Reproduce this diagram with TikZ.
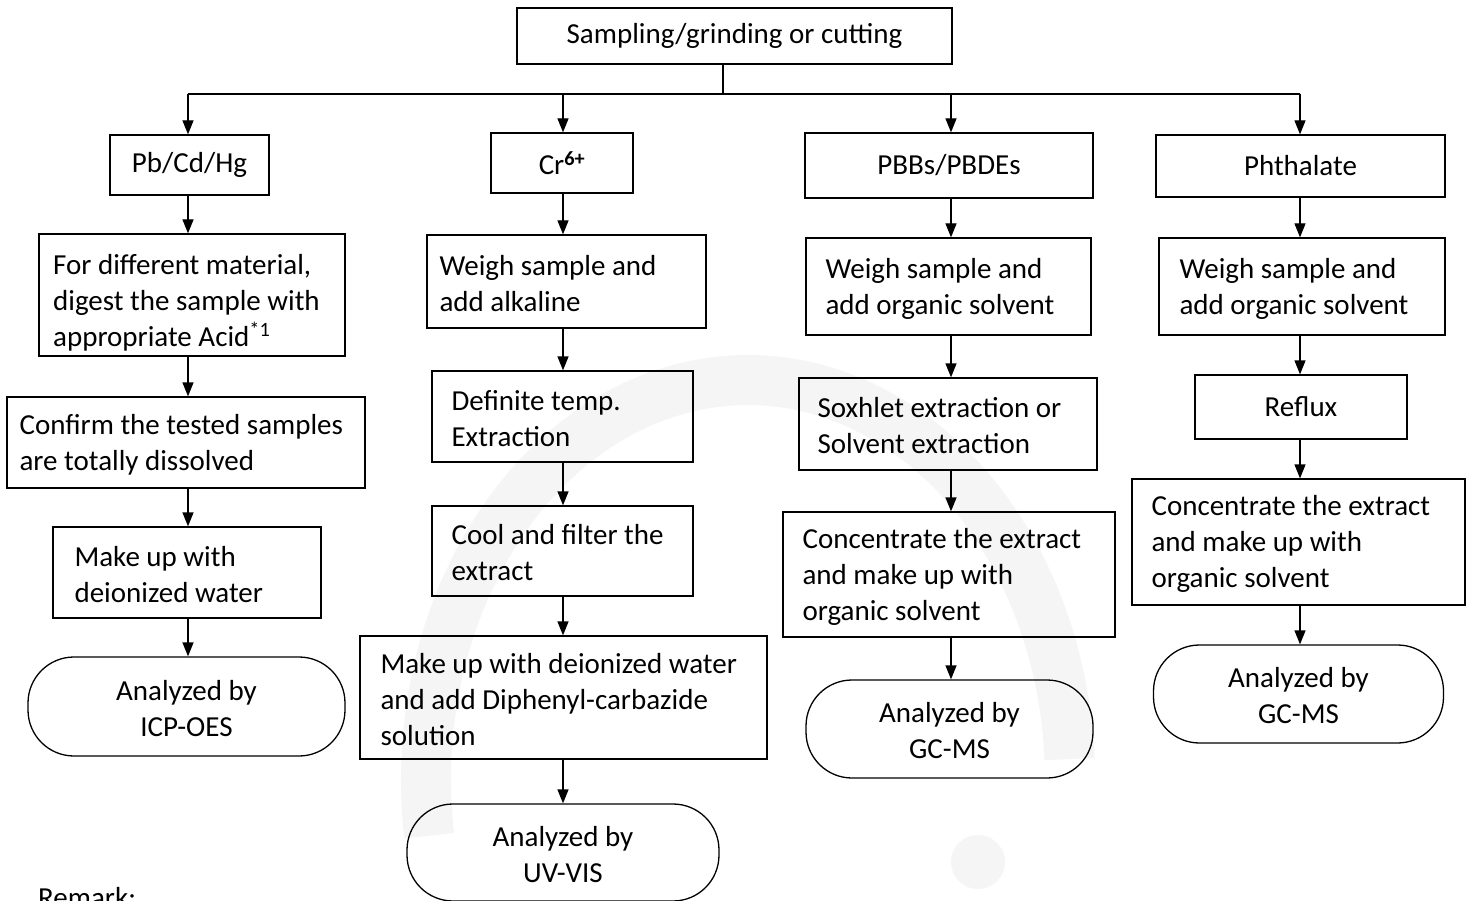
\documentclass[tikz,border=0pt]{standalone}
\usepackage{fontspec}
\setmainfont{Carlito}
\usetikzlibrary{arrows.meta,calc}
\begin{document}
\begin{tikzpicture}[x=1pt,y=-1pt,
  every node/.style={font=\fontsize{29}{36}\selectfont},
  box/.style={draw,line width=1.3pt,inner sep=0pt},
  txt/.style={anchor=west,inner sep=0pt,align=left,yshift=-2pt},
  cbox/.style={draw,line width=1.3pt,inner sep=0pt,align=center},
  term/.style={draw,line width=1.3pt,inner sep=0pt,align=center,rounded corners=46pt},
  ln/.style={line width=1.3pt},
  arr/.style={line width=1.3pt,-{Triangle[length=14pt,width=11pt]}},
  wm/.style={draw=black!4,line width=50pt}]
\useasboundingbox[fill=white] (0,0) rectangle (1471,901);
% faint watermark
\draw[wm] (748,780) ++(172:322 and 400) arc[start angle=172,end angle=357,x radius=322,y radius=400];
\fill[black!4] (978,862) circle[radius=27];

% top
\node[cbox,minimum width=435pt,minimum height=56pt] (top) at (734.5,36) {Sampling/grinding or cutting};
\coordinate (hub) at (723,94);
\coordinate (hA) at (188,94);
\coordinate (hB) at (563,94);
\coordinate (hC) at (951,94);
\coordinate (hD) at (1300,94);

% level 1
\node[cbox,minimum width=159pt,minimum height=60pt] (A0) at (189.5,165) {Pb/Cd/Hg};
\node[cbox,minimum width=142pt,minimum height=60pt] (B0) at (562,163) {Cr\textsuperscript{\textbf{6+}}};
\node[cbox,minimum width=288pt,minimum height=65pt] (C0) at (949,165.5) {PBBs/PBDEs};
\node[cbox,minimum width=289pt,minimum height=62pt] (D0) at (1300.5,166) {Phthalate};

% column A
\node[box,minimum width=306pt,minimum height=122pt] (A1) at (192,295) {};
\begin{scope}
\clip (39,234) rectangle (345,354);
\node[anchor=base west,inner sep=0pt,align=left] (A1t) at (53,346) {For different material,\\digest the sample with\\appropriate Acid\textsuperscript{*1}};
\end{scope}
\node[box,minimum width=358pt,minimum height=91pt] (A2) at (186,442.5) {};
\node[txt] (A2t) at ([xshift=13pt]A2.west) {Confirm the tested samples\\are totally dissolved};
\node[box,minimum width=268pt,minimum height=91pt] (A3) at (187,572.5) {};
\node[txt] (A3t) at ([xshift=22pt]A3.west) {Make up with\\deionized water};
\node[term,minimum width=317pt,minimum height=99pt] (A4) at (186.5,706.5) {};
\node[txt,anchor=center,align=center] (A4t) at (A4) {Analyzed by\\ICP-OES};

% column B
\node[box,minimum width=279pt,minimum height=93pt] (B1) at (566.5,281.5) {};
\node[txt] (B1t) at ([xshift=13pt]B1.west) {Weigh sample and\\add alkaline};
\node[box,minimum width=261pt,minimum height=91pt] (B2) at (562.5,416.5) {};
\node[txt] (B2t) at ([xshift=20pt]B2.west) {Definite temp.\\Extraction};
\node[box,minimum width=261pt,minimum height=90pt] (B3) at (562.5,551) {};
\node[txt] (B3t) at ([xshift=20pt]B3.west) {Cool and filter the\\extract};
\node[box,minimum width=407pt,minimum height=123pt] (B4) at (563.5,697.5) {};
\node[txt] (B4t) at ([xshift=21pt]B4.west) {Make up with deionized water\\and add Diphenyl-carbazide\\solution};
\node[term,minimum width=312pt,minimum height=97pt] (B5) at (563,852.5) {};
\node[txt,anchor=center,align=center] (B5t) at (B5) {Analyzed by\\UV-VIS};

% column C
\node[box,minimum width=285pt,minimum height=97pt] (C1) at (948.5,286.5) {};
\node[txt] (C1t) at ([xshift=20pt]C1.west) {Weigh sample and\\add organic solvent};
\node[box,minimum width=298pt,minimum height=92pt] (C2) at (948,424) {};
\node[txt] (C2t) at ([xshift=19pt]C2.west) {Soxhlet extraction or\\Solvent extraction};
\node[box,minimum width=332pt,minimum height=125pt] (C3) at (949,574.5) {};
\node[txt] (C3t) at ([xshift=20pt]C3.west) {Concentrate the extract\\and make up with\\organic solvent};
\node[term,minimum width=287pt,minimum height=98pt] (C4) at (949.5,729) {};
\node[txt,anchor=center,align=center] (C4t) at (C4) {Analyzed by\\GC-MS};

% column D
\node[box,minimum width=286pt,minimum height=97pt] (D1) at (1302,286.5) {};
\node[txt] (D1t) at ([xshift=21pt]D1.west) {Weigh sample and\\add organic solvent};
\node[cbox,minimum width=212pt,minimum height=64pt] (D2) at (1301,407) {Reflux};
\node[box,minimum width=333pt,minimum height=126pt] (D3) at (1298.5,542) {};
\node[txt] (D3t) at ([xshift=20pt]D3.west) {Concentrate the extract\\and make up with\\organic solvent};
\node[term,minimum width=290pt,minimum height=98pt] (D4) at (1298.5,694) {};
\node[txt,anchor=center,align=center] (D4t) at (D4) {Analyzed by\\GC-MS};

% remark
\node[anchor=base west,inner sep=0pt] (rem) at (38,907) {Remark:};

% connectors
\draw[ln] (top.south -| hub) -- (hub);
\draw[ln] (hA) -- (hD);
\draw[arr] (hA) -- (A0.north -| hA);
\draw[arr] (hB) -- (B0.north -| hB);
\draw[arr] (hC) -- (C0.north -| hC);
\draw[arr] (hD) -- (D0.north -| hD);

\draw[arr] (A0.south -| hA) -- (A1.north -| hA);
\draw[arr] (A1.south -| hA) -- (A2.north -| hA);
\draw[arr] (A2.south -| hA) -- (A3.north -| hA);
\draw[arr] (A3.south -| hA) -- (A4.north -| hA);

\draw[arr] (B0.south -| hB) -- (B1.north -| hB);
\draw[arr] (B1.south -| hB) -- (B2.north -| hB);
\draw[arr] (B2.south -| hB) -- (B3.north -| hB);
\draw[arr] (B3.south -| hB) -- (B4.north -| hB);
\draw[arr] (B4.south -| hB) -- (B5.north -| hB);

\draw[arr] (C0.south -| hC) -- (C1.north -| hC);
\draw[arr] (C1.south -| hC) -- (C2.north -| hC);
\draw[arr] (C2.south -| hC) -- (C3.north -| hC);
\draw[arr] (C3.south -| hC) -- (C4.north -| hC);

\draw[arr] (D0.south -| hD) -- (D1.north -| hD);
\draw[arr] (D1.south -| hD) -- (D2.north -| hD);
\draw[arr] (D2.south -| hD) -- (D3.north -| hD);
\draw[arr] (D3.south -| hD) -- (D4.north -| hD);
\end{tikzpicture}
\end{document}
